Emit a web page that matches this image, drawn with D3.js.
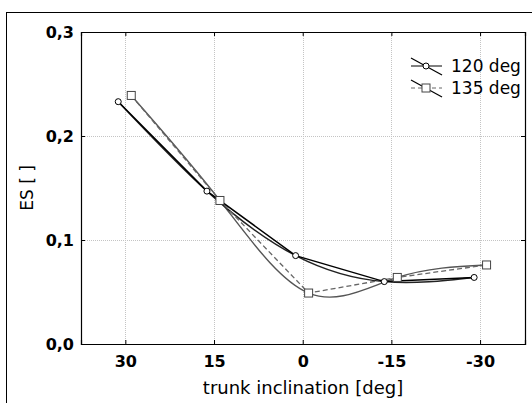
<!DOCTYPE html>
<html>
<head>
<meta charset="utf-8">
<script src="https://cdn.jsdelivr.net/npm/d3@7"></script>
<style>
  body { margin: 0; background: white; }
  svg { display: block; }
</style>
</head>
<body>
<div id="chart-area"></div>
<script>
// data
var seriesNames = ["120 deg", "135 deg"];
var incl120 = [31.2, 16.2, 1.2, -13.8, -29.0];
var es120 = [0.233, 0.147, 0.085, 0.060, 0.064];
var incl135 = [29.0, 14.0, -1.0, -16.0, -31.1];
var es135 = [0.239, 0.138, 0.049, 0.064, 0.076];
var xTicks = [30, 15, 0, -15, -30];
var yTicks = [0, 0.1, 0.2, 0.3];

var margin = { top: 32, right: 7, bottom: 59, left: 81 };
var width = 532 - margin.left - margin.right;
var height = 403 - margin.top - margin.bottom;

var svg = d3.select("#chart-area")
  .append("svg")
  .attr("width", 532)
  .attr("height", 403)
  .style("background-color", "white");

// outer frame
svg.append("rect")
  .attr("x", 6.5)
  .attr("y", 12.5)
  .attr("width", 540)
  .attr("height", 400)
  .attr("fill", "none")
  .attr("stroke", "black");

var g = svg.append("g")
  .attr("transform", "translate(" + margin.left + "," + margin.top + ")");

var x = d3.scaleLinear()
  .domain([37.5, -37.6])
  .range([0, width]);

var y = d3.scaleLinear()
  .domain([0, 0.3])
  .range([height, 0]);

// grid
g.selectAll(".vgrid")
  .data(xTicks)
  .enter().append("line")
  .attr("class", "vgrid")
  .attr("x1", d => Math.round(x(d)) + 0.5)
  .attr("x2", d => Math.round(x(d)) + 0.5)
  .attr("y1", 0)
  .attr("y2", height)
  .attr("stroke", "#c4c4c4")
  .attr("stroke-dasharray", "1,1");

g.selectAll(".hgrid")
  .data(yTicks.slice(1, 3))
  .enter().append("line")
  .attr("class", "hgrid")
  .attr("x1", 0)
  .attr("x2", width)
  .attr("y1", d => Math.round(y(d)) + 0.5)
  .attr("y2", d => Math.round(y(d)) + 0.5)
  .attr("stroke", "#c4c4c4")
  .attr("stroke-dasharray", "1,1");

// axes
g.append("g")
  .attr("transform", "translate(0," + height + ")")
  .call(d3.axisBottom(x).tickValues(xTicks).tickSize(-4).tickPadding(12).tickFormat(d => String(d)));

g.append("g")
  .call(d3.axisLeft(y).tickValues(yTicks).tickSize(-4).tickPadding(7)
    .tickFormat(d => d3.format(".1f")(d).replace(".", ",")));

g.append("g")
  .call(d3.axisTop(x).tickValues(xTicks).tickSize(-4).tickFormat(""));

g.append("g")
  .attr("transform", "translate(" + width + ",0)")
  .call(d3.axisRight(y).tickValues(yTicks).tickSize(-4).tickFormat(""));

g.selectAll(".domain").attr("stroke", "black").attr("stroke-width", 1.2);
g.selectAll(".tick line").attr("stroke", "black");
g.selectAll(".tick text")
  .attr("fill", "black")
  .attr("font-family", "DejaVu Sans")
  .attr("font-weight", "bold")
  .attr("font-size", "16px");

g.append("text")
  .attr("x", width / 2)
  .attr("y", height + 50)
  .attr("font-size", "18px")
  .attr("font-family", "DejaVu Sans")
  .attr("text-anchor", "middle")
  .attr("fill", "black")
  .text("trunk inclination [deg]");

g.append("text")
  .attr("x", -(height / 2))
  .attr("y", -48)
  .attr("font-size", "17px")
  .attr("font-family", "DejaVu Sans")
  .attr("text-anchor", "middle")
  .attr("transform", "rotate(-90)")
  .attr("fill", "black")
  .text("ES [ ]");

var data120 = incl120.map((d, i) => ({ x: d, y: es120[i] }));
var data135 = incl135.map((d, i) => ({ x: d, y: es135[i] }));

var straight = d3.line().x(d => x(d.x)).y(d => y(d.y));
var smooth = d3.line().x(d => x(d.x)).y(d => y(d.y)).curve(d3.curveNatural);

// fitted curves
g.append("path")
  .attr("d", smooth(data135))
  .attr("fill", "none")
  .attr("stroke", "#555")
  .attr("stroke-width", 1.4);

g.append("path")
  .attr("d", smooth(data120))
  .attr("fill", "none")
  .attr("stroke", "#222")
  .attr("stroke-width", 1.4);

// connecting lines
g.append("path")
  .attr("d", straight(data135))
  .attr("fill", "none")
  .attr("stroke", "#666")
  .attr("stroke-width", 1.3)
  .attr("stroke-dasharray", "5,3");

g.append("path")
  .attr("d", straight(data120))
  .attr("fill", "none")
  .attr("stroke", "black")
  .attr("stroke-width", 1.5);

// markers
g.selectAll(".sq")
  .data(data135)
  .enter().append("rect")
  .attr("class", "sq")
  .attr("x", d => x(d.x) - 4)
  .attr("y", d => y(d.y) - 4)
  .attr("width", 8)
  .attr("height", 8)
  .attr("fill", "white")
  .attr("stroke", "#444");

g.selectAll(".circ")
  .data(data120)
  .enter().append("circle")
  .attr("class", "circ")
  .attr("cx", d => x(d.x))
  .attr("cy", d => y(d.y))
  .attr("r", 3)
  .attr("fill", "white")
  .attr("stroke", "black");

// legend
var legend = g.selectAll(".legend")
  .data(seriesNames)
  .enter().append("g")
  .attr("class", "legend")
  .attr("transform", (d, i) => "translate(330," + (34 + i * 22) + ")");

legend.append("line")
  .attr("x1", 0).attr("x2", 31)
  .attr("y1", 0).attr("y2", 0)
  .attr("stroke", (d, i) => i ? "#666" : "black")
  .attr("stroke-dasharray", (d, i) => i ? "4,3" : null);

legend.append("line")
  .attr("x1", 0).attr("x2", 31)
  .attr("y1", -8).attr("y2", 9)
  .attr("stroke", "black")
  .attr("stroke-width", 1.2);

legend.filter((d, i) => i === 0).append("circle")
  .attr("cx", 15).attr("cy", 0).attr("r", 3)
  .attr("fill", "white").attr("stroke", "black");

legend.filter((d, i) => i === 1).append("rect")
  .attr("x", 11).attr("y", -4).attr("width", 8).attr("height", 8)
  .attr("fill", "white").attr("stroke", "#444");

legend.append("text")
  .attr("x", 40)
  .attr("y", 6)
  .attr("font-size", "17px")
  .attr("font-family", "DejaVu Sans")
  .attr("fill", "black")
  .text(d => d);
</script>
</body>
</html>
